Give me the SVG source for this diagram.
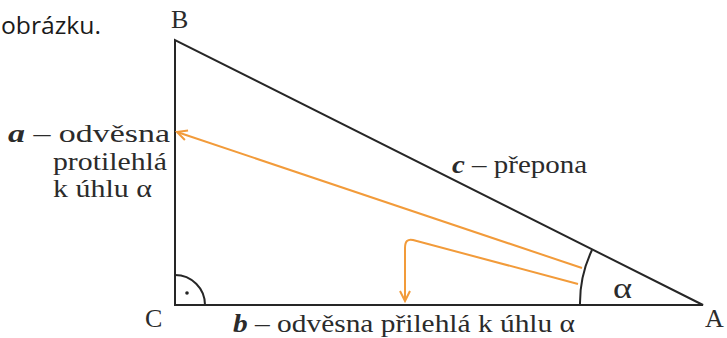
<svg xmlns="http://www.w3.org/2000/svg" width="727" height="338" viewBox="0 0 727 338">
  <style>
    .edge{fill:none;stroke:#262626;stroke-width:2}
    .arr{fill:none;stroke:#F29B3A;stroke-width:2}
    .t{font-family:"Liberation Serif","DejaVu Serif",serif;font-size:26px;fill:#2b2b2b}
    .v{font-family:"Liberation Serif","DejaVu Serif",serif;font-size:26px;fill:#2b2b2b}
    .alpha{font-size:30px}
    .bi{font-weight:bold;font-style:italic}
  </style>
  <defs>
    <marker id="ah" markerUnits="userSpaceOnUse" markerWidth="14" markerHeight="14" refX="11" refY="6" orient="auto">
      <path d="M1,1 L11,6 L1,11" fill="none" stroke="#F29B3A" stroke-width="2"/>
    </marker>
  </defs>
  <rect width="727" height="338" fill="#ffffff"/>
  <text x="1" y="34" font-family="'Open Sans','Liberation Sans',sans-serif" font-size="24" fill="#1a1a1a" textLength="100" lengthAdjust="spacingAndGlyphs">obrázku.</text>
  <g id="triangle">
    <path class="edge" d="M175,40 L175,305 L703,305 Z"/>
    <path class="edge" d="M175,275 A30,30 0 0 1 205,305"/>
    <circle cx="187" cy="293" r="1.8" fill="#262626"/>
    <path class="edge" d="M580,305 A123,123 0 0 1 592,250"/>
  </g>
  <g id="vertices">
    <text class="v" x="171" y="28">B</text>
    <text class="v" x="145" y="327">C</text>
    <text class="v" x="705" y="327">A</text>
    <text class="t alpha" x="613" y="298" textLength="19" lengthAdjust="spacingAndGlyphs">α</text>
  </g>
  <g id="connectors">
    <path class="arr" d="M582,268 L177,132" marker-end="url(#ah)"/>
    <path class="arr" d="M578,284 L413,240 Q405,238 405,248 L405,301" marker-end="url(#ah)"/>
  </g>
  <g id="labels">
    <text class="t" x="8" y="142" textLength="162" lengthAdjust="spacingAndGlyphs"><tspan class="bi">a</tspan> – odvěsna</text>
    <text class="t" x="53" y="170" textLength="114" lengthAdjust="spacingAndGlyphs">protilehlá</text>
    <text class="t" x="53" y="197" textLength="99" lengthAdjust="spacingAndGlyphs">k úhlu α</text>
    <text class="t" x="452" y="173" textLength="135" lengthAdjust="spacingAndGlyphs"><tspan class="bi">c</tspan> – přepona</text>
    <text class="t" x="233" y="332" textLength="342" lengthAdjust="spacingAndGlyphs"><tspan class="bi">b</tspan> – odvěsna přilehlá k úhlu α</text>
  </g>
</svg>
